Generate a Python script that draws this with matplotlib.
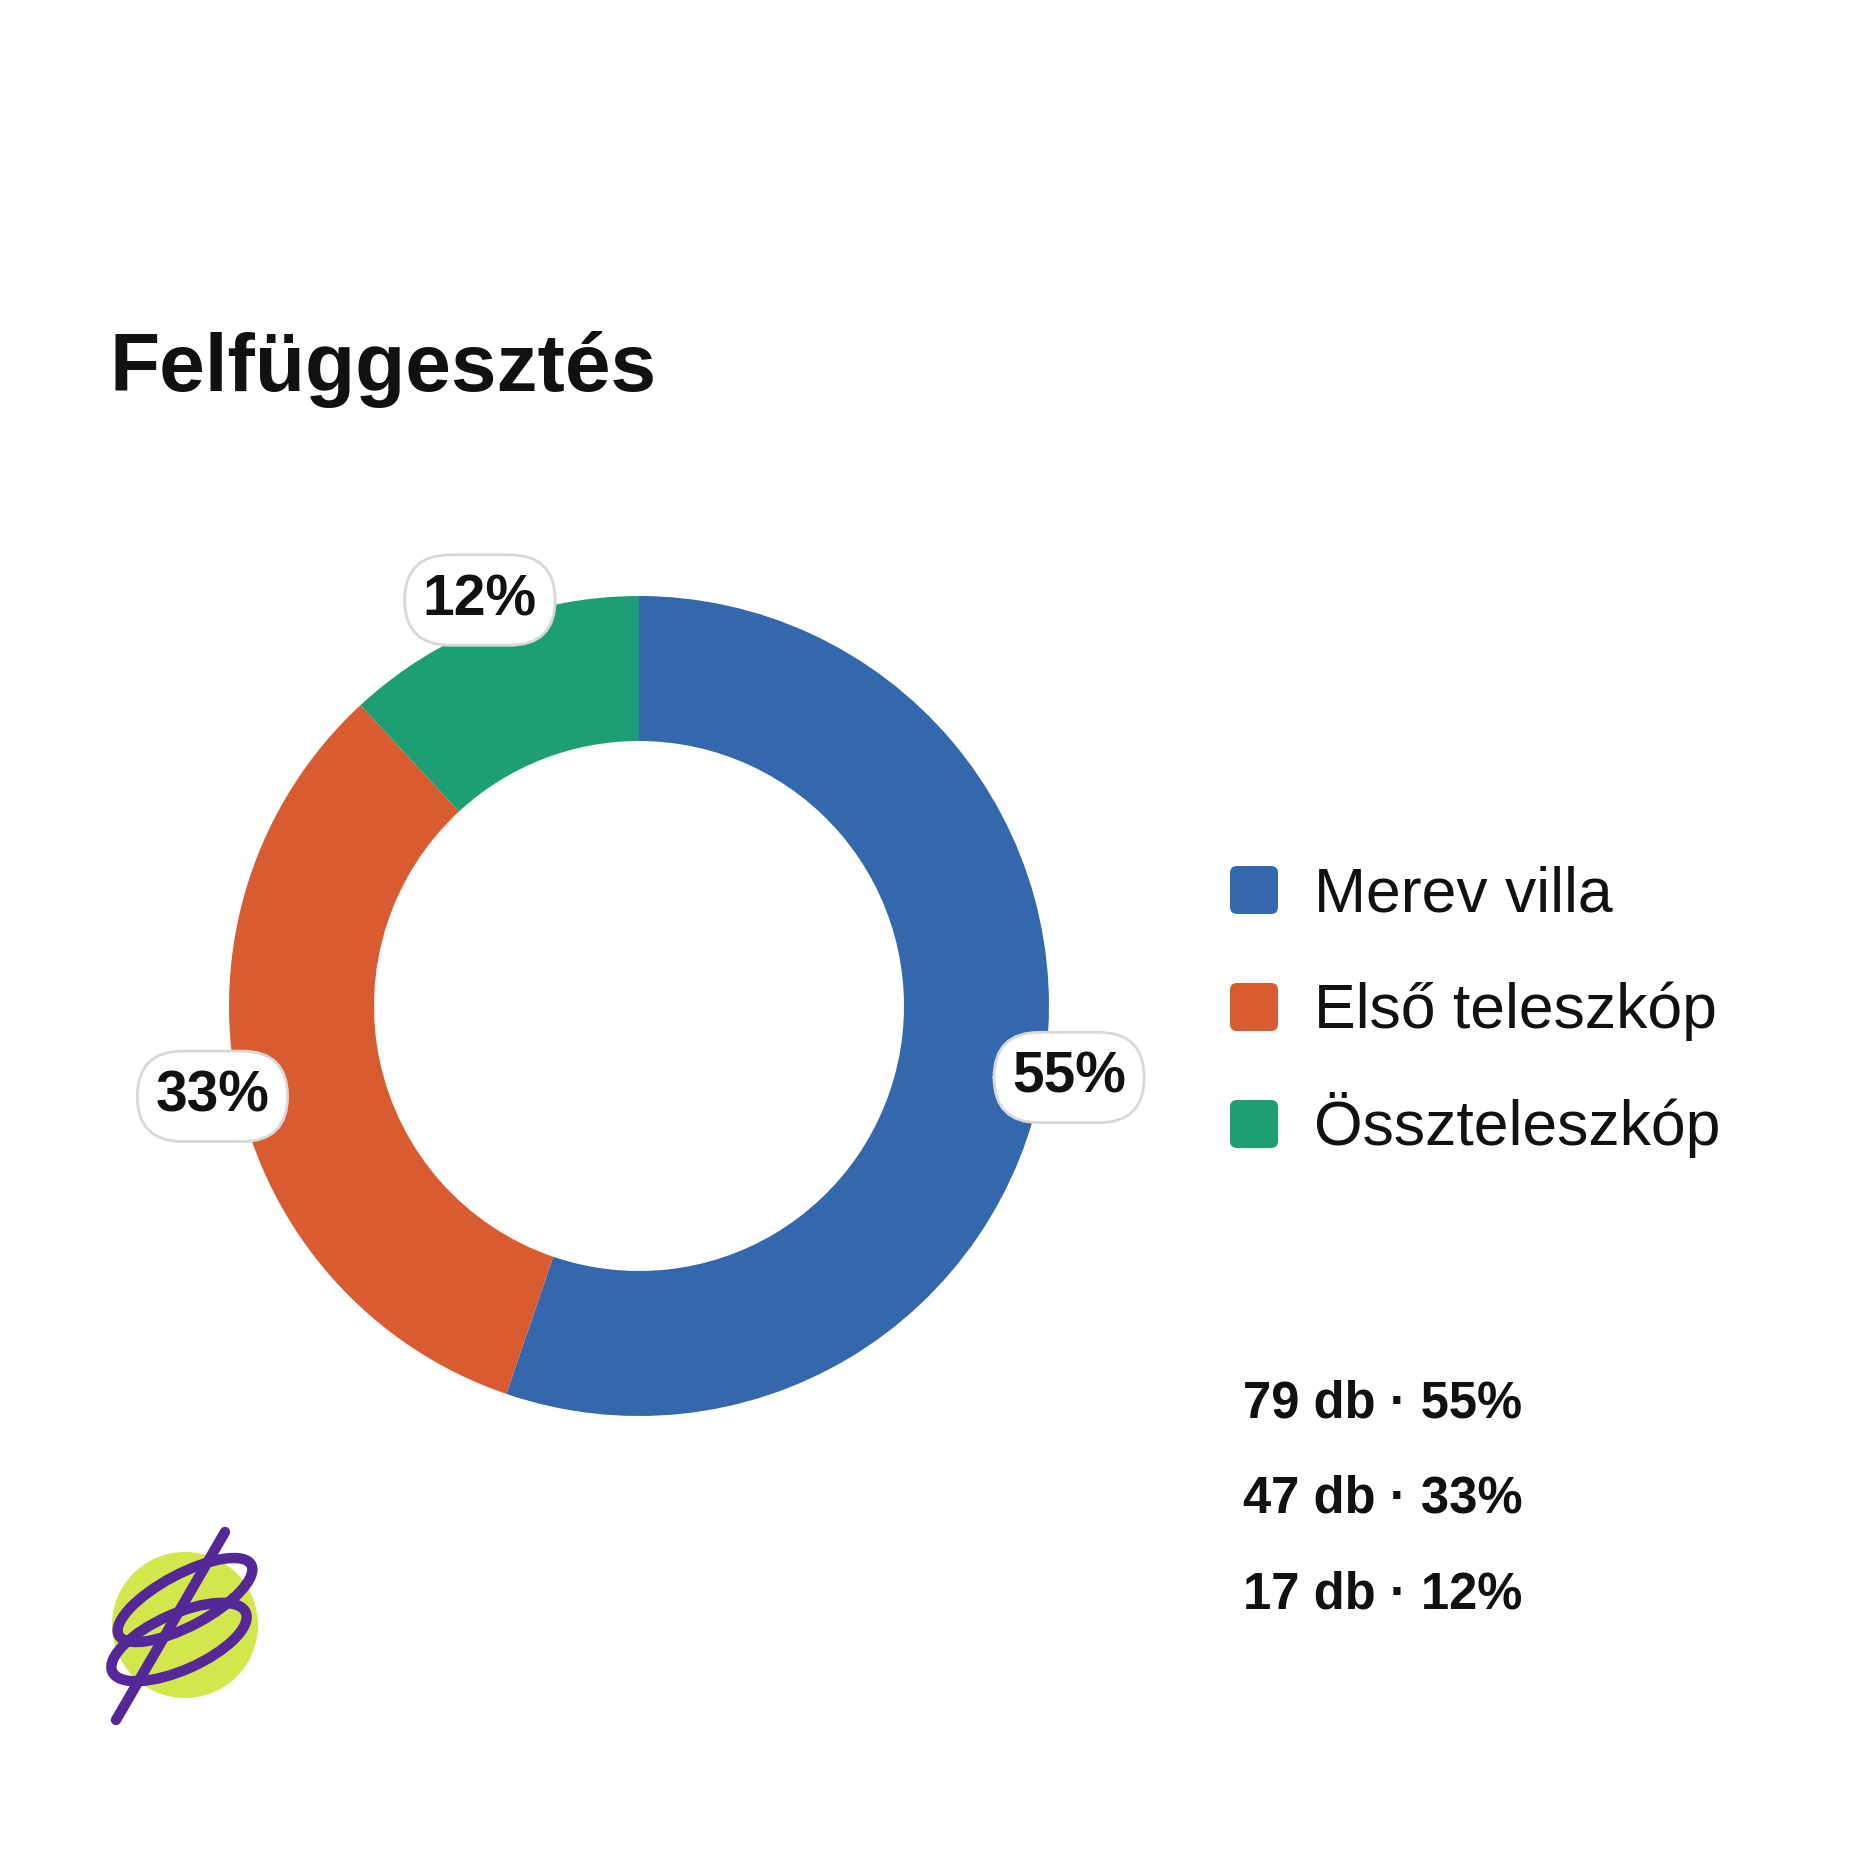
import numpy as np
import matplotlib
matplotlib.use("Agg")
import matplotlib.pyplot as plt
from matplotlib.patches import FancyBboxPatch, Ellipse, Circle

plt.rcParams['font.family'] = ['Liberation Sans', 'DejaVu Sans']

# ---- data ----
title = "Felfüggesztés"
categories = ["Merev villa", "Első teleszkóp", "Összteleszkóp"]
counts = [79, 47, 17]
percent_labels = ["55%", "33%", "12%"]
colors = ["#3467AC", "#D95B32", "#1E9E74"]

W = H = 1860
fig = plt.figure(figsize=(W / 100, H / 100), dpi=100)
fig.patch.set_facecolor("white")

# ---- donut ----
cx, cy, R, r_in = 639, 1006, 410, 265
ax = fig.add_axes([(cx - R) / W, (H - cy - R) / H, 2 * R / W, 2 * R / H])
wedges, _ = ax.pie(counts, colors=colors, startangle=90, counterclock=False,
                   radius=1.0, wedgeprops=dict(width=1 - r_in / R, linewidth=0))
ax.set_xlim(-1, 1)
ax.set_ylim(-1, 1)
ax.set_aspect("equal")
ax.axis("off")

lab_r = 436 / R
for w, lab in zip(wedges, percent_labels):
    mid = np.deg2rad((w.theta1 + w.theta2) / 2)
    x, y = lab_r * np.cos(mid), lab_r * np.sin(mid)
    ax.text(x, y, lab, ha="center", va="center", fontsize=41, fontweight="bold",
            color="#111111", clip_on=False, zorder=5,
            bbox=dict(boxstyle="round,pad=0.32,rounding_size=0.8",
                      facecolor="white", edgecolor="#d8d8d8", linewidth=2.0))

# ---- overlay in pixel coordinates ----
ov = fig.add_axes([0, 0, 1, 1])
ov.set_xlim(0, W)
ov.set_ylim(H, 0)
ov.axis("off")
ov.patch.set_visible(False)

ov.text(109, 391, title, fontsize=59, fontweight="bold", color="#111111",
        ha="left", va="baseline")

# legend
sq = 48
for i, (cat, col) in enumerate(zip(categories, colors)):
    yc = 890 + i * 117
    ov.add_patch(FancyBboxPatch((1254 - sq / 2 + 5, yc - sq / 2 + 5), sq - 10, sq - 10,
                                boxstyle="round,pad=5,rounding_size=7",
                                facecolor=col, edgecolor="none"))
    ov.text(1314, yc + 21, cat, fontsize=45, color="#111111",
            ha="left", va="baseline")

# stats
for i, (c, p) in enumerate(zip(counts, percent_labels)):
    ov.text(1243, 1417 + i * 95.5, f"{c} db · {p}", fontsize=36.5, fontweight="bold",
            color="#111111", ha="left", va="baseline")

# logo
purple = "#55289A"
ov.add_patch(Circle((185, 1625), 73, facecolor="#D3E64C", edgecolor="none"))
ov.add_patch(Ellipse((185, 1600), 150, 52, angle=-28, fill=False,
                     edgecolor=purple, linewidth=7.5))
ov.add_patch(Ellipse((179, 1642), 146, 56, angle=-24, fill=False,
                     edgecolor=purple, linewidth=7.5))
ov.plot([225, 116], [1532, 1720], color=purple, linewidth=7.5,
        solid_capstyle="round")

fig.savefig("out.png", dpi=100, facecolor="white")
